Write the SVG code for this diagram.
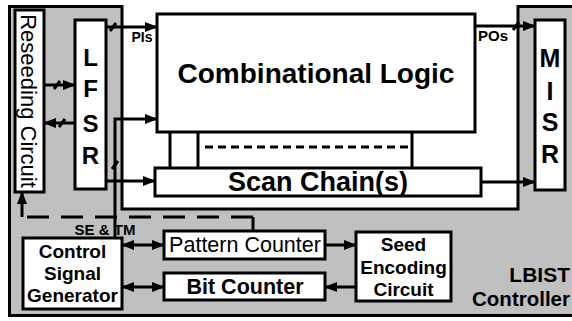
<svg xmlns="http://www.w3.org/2000/svg" width="572" height="321" viewBox="0 0 572 321">
<style>
.box{fill:#fff;stroke:#000;stroke-width:3}
.ln{fill:none;stroke:#000;stroke-width:3}
.t{font-family:"Liberation Sans",Arial,sans-serif;fill:#000;text-anchor:middle}
.b{font-weight:bold}
</style>
<defs>
<marker id="ah" markerUnits="userSpaceOnUse" markerWidth="14" markerHeight="12" refX="12" refY="5" orient="auto" overflow="visible">
<path d="M0,0 L13,5 L0,10 z" fill="#000"/>
</marker>
<marker id="as" markerUnits="userSpaceOnUse" markerWidth="14" markerHeight="12" refX="1" refY="5" orient="auto" overflow="visible">
<path d="M13,0 L0,5 L13,10 z" fill="#000"/>
</marker>
</defs>
<g id="lbist-controller">
<rect x="9.5" y="6.5" width="575" height="309" fill="#c0c0c0" stroke="#000" stroke-width="3"/>
<text class="t b" x="570" y="282" font-size="21" style="text-anchor:end">LBIST</text>
<text class="t b" x="570" y="306" font-size="20.5" style="text-anchor:end">Controller</text>
</g>
<g id="cut">
<rect x="122" y="-10" width="396" height="219" fill="#fff"/>
<path class="ln" d="M122,5 V209 H518 V5"/>
</g>
<g id="comb-logic">
<rect x="157" y="14" width="318" height="118" class="box"/>
<text class="t b" x="316" y="83" font-size="28">Combinational Logic</text>
</g>
<g id="scan-chain">
<rect x="155" y="168" width="326" height="28" class="box"/>
<text class="t b" x="318" y="191" font-size="27">Scan Chain(s)</text>
</g>
<g id="reseeding">
<rect x="15" y="10" width="29" height="182" class="box"/>
<text class="t" transform="translate(21,101) rotate(90)" font-size="22">Reseeding Circuit</text>
</g>
<g id="lfsr">
<rect x="75" y="20" width="31" height="169" class="box"/>
<text class="t b" x="90.5" y="66" font-size="24">L</text>
<text class="t b" x="90.5" y="97" font-size="24">F</text>
<text class="t b" x="90.5" y="132" font-size="24">S</text>
<text class="t b" x="90.5" y="164" font-size="24">R</text>
</g>
<g id="misr">
<rect x="535" y="20" width="30" height="170" class="box"/>
<text class="t b" x="550" y="67" font-size="25">M</text>
<text class="t b" x="550" y="100" font-size="25">I</text>
<text class="t b" x="550" y="131" font-size="25">S</text>
<text class="t b" x="550" y="163" font-size="25">R</text>
</g>
<g id="csg">
<rect x="23" y="238" width="99" height="71" class="box"/>
<text class="t b" x="72.5" y="258" font-size="19">Control</text>
<text class="t b" x="72.5" y="280" font-size="19">Signal</text>
<text class="t b" x="72.5" y="302" font-size="19">Generator</text>
</g>
<g id="pattern-counter">
<rect x="164" y="231" width="161" height="28" class="box"/>
<text class="t" x="245" y="252" font-size="21.5">Pattern Counter</text>
</g>
<g id="bit-counter">
<rect x="164" y="273" width="161" height="27" class="box"/>
<text class="t b" x="245" y="294" font-size="21.5">Bit Counter</text>
</g>
<g id="seed-encoding">
<rect x="356" y="232" width="95" height="69" class="box"/>
<text class="t b" x="403.5" y="251" font-size="19">Seed</text>
<text class="t b" x="403.5" y="274" font-size="19">Encoding</text>
<text class="t b" x="403.5" y="296" font-size="19">Circuit</text>
</g>
<g id="connectors">
<line class="ln" x1="170" y1="132" x2="170" y2="168"/>
<line class="ln" x1="198" y1="132" x2="198" y2="168"/>
<line class="ln" x1="412" y1="132" x2="412" y2="168"/>
<line class="ln" x1="205" y1="147" x2="408" y2="147" stroke-dasharray="8,5"/>
<line class="ln" x1="106" y1="27" x2="157" y2="27" marker-end="url(#ah)"/>
<line class="ln" x1="475" y1="26" x2="535" y2="26" marker-end="url(#ah)"/>
<line class="ln" x1="44" y1="85" x2="75" y2="85" marker-end="url(#ah)"/>
<line class="ln" x1="75" y1="123" x2="44" y2="123" marker-end="url(#ah)"/>
<line class="ln" x1="106" y1="181" x2="155" y2="181" marker-end="url(#ah)"/>
<line class="ln" x1="481" y1="182" x2="535" y2="182" marker-end="url(#ah)"/>
<path class="ln" d="M115,238 V119 H157" marker-end="url(#ah)"/>
<path class="ln" d="M253,232 V217"/>
<line class="ln" x1="253" y1="217" x2="22" y2="217" stroke-dasharray="22,12"/>
<line class="ln" x1="22" y1="217" x2="22" y2="192" marker-end="url(#ah)"/>
<line class="ln" x1="122" y1="245" x2="164" y2="245" marker-start="url(#as)" marker-end="url(#ah)"/>
<line class="ln" x1="122" y1="287" x2="164" y2="287" marker-start="url(#as)" marker-end="url(#ah)"/>
<line class="ln" x1="325" y1="245" x2="356" y2="245" marker-end="url(#ah)"/>
<line class="ln" x1="356" y1="287" x2="325" y2="287" marker-end="url(#ah)"/>
<g class="ln" stroke-width="2">
<line x1="110" y1="31" x2="116" y2="23"/>
<line x1="513" y1="30" x2="519" y2="22"/>
<line x1="54" y1="89" x2="60" y2="81"/>
<line x1="59" y1="127" x2="65" y2="119"/>
<line x1="112" y1="169" x2="118" y2="161"/>
</g>
<text class="t b" x="142" y="42" font-size="14">PIs</text>
<text class="t b" x="493" y="41" font-size="15">POs</text>
<text class="t b" x="105" y="235" font-size="15">SE &amp; TM</text>
</g>
</svg>
